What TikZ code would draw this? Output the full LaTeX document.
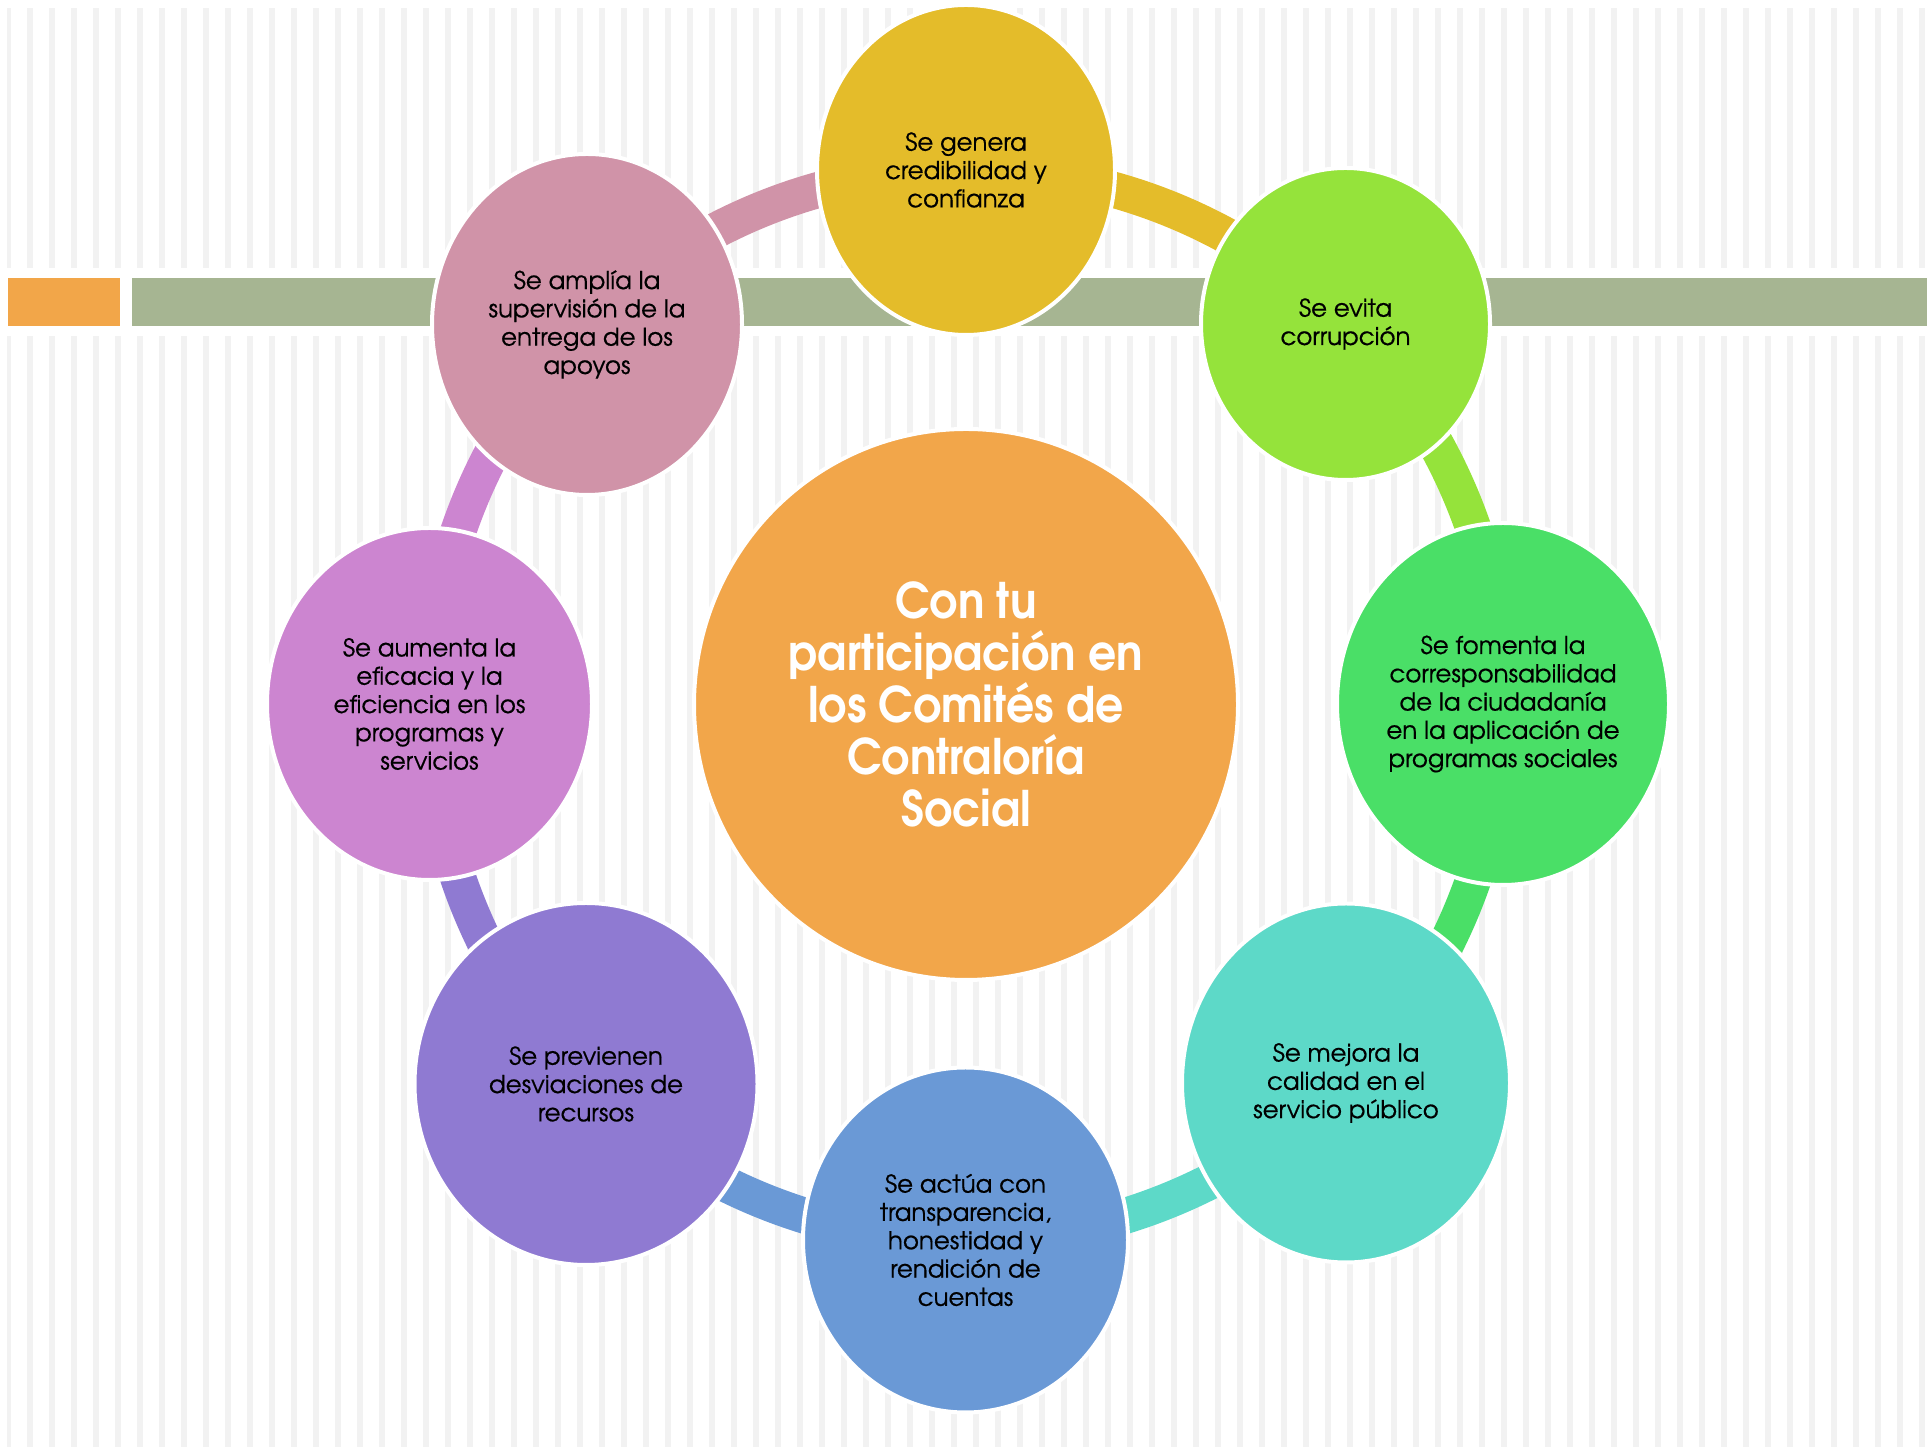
\documentclass[tikz,border=0pt]{standalone}
\usepackage{fontspec}
\setmainfont{texgyreadventor}[Extension=.otf, UprightFont=*-regular, BoldFont=*-bold, ItalicFont=*-italic, BoldItalicFont=*-bolditalic, FakeBold=0.5]
\newfontfamily\titlefont{texgyreadventor-bold}[Extension=.otf, FakeStretch=0.9]
\usetikzlibrary{shapes.geometric}
\definecolor{stripegray}{HTML}{F2F2F2}
\definecolor{barorange}{HTML}{F2A649}
\definecolor{bargreen}{HTML}{A6B592}
\definecolor{cyellow}{HTML}{E4BC2A}
\definecolor{clime}{HTML}{95E33B}
\definecolor{cgreen}{HTML}{4ADF67}
\definecolor{cteal}{HTML}{5DD9C8}
\definecolor{cblue}{HTML}{6A99D6}
\definecolor{cpurple}{HTML}{8F7AD2}
\definecolor{cviolet}{HTML}{CC85D0}
\definecolor{cpink}{HTML}{D093A8}
\definecolor{corange}{HTML}{F2A64A}
\tikzset{
  bubble/.style={ellipse, draw=white, line width=4pt, inner sep=0pt, align=center,
    text=black, font=\fontsize{24.5}{28.3}\selectfont},
  hub/.style={ellipse, draw=white, line width=4pt, inner sep=0pt, align=center,
    fill=corange, text=white, font=\titlefont\fontsize{49}{52}\selectfont},
  ring/.style={line width=36pt, line cap=butt, bend left=22.5, looseness=0.885}
}
\begin{document}
\begin{tikzpicture}[x=1pt,y=1pt]
\useasboundingbox (0,0) rectangle (1927,1447);
\fill[white] (0,0) rectangle (1927,1447);
% background stripes
\begin{scope}
\clip (7,0) rectangle (1927,1447);
\foreach \k in {0,...,87} {
  \fill[stripegray] ({5+22*\k},0) rectangle ++(6,1111);
  \fill[stripegray] ({5+22*\k},1179) rectangle ++(6,260);
}
\end{scope}
% bars
\fill[barorange] (8,1121) rectangle (120,1169);
\fill[bargreen] (132,1121) rectangle (1927,1169);
% positions
\coordinate (cC) at (966,742.5);
\coordinate (cY) at (966,1277);
\coordinate (cL) at (1345.5,1123);
\coordinate (cG) at (1503,743);
\coordinate (cT) at (1346,364);
\coordinate (cB) at (965.5,207);
\coordinate (cP) at (586,363);
\coordinate (cV) at (429.5,743);
\coordinate (cK) at (587,1122.5);
% ring
\draw[ring, cyellow] (cY) to (cL);
\draw[ring, clime] (cL) to (cG);
\draw[ring, cgreen] (cG) to (cT);
\draw[ring, cteal] (cT) to (cB);
\draw[ring, cblue] (cB) to (cP);
\draw[ring, cpurple] (cP) to (cV);
\draw[ring, cviolet] (cV) to (cK);
\draw[ring, cpink] (cK) to (cY);
% nodes
\node[hub, minimum width=544pt, minimum height=551pt] (C) at (cC)
  {Con tu\\participación en\\los Comités de\\Contraloría\\Social};
\node[bubble, fill=cyellow, minimum width=298pt, minimum height=330pt] (Y) at (cY)
  {Se genera\\credibilidad y\\confianza};
\node[bubble, fill=clime, minimum width=289pt, minimum height=312pt] (L) at (cL)
  {Se evita\\corrupción};
\node[bubble, fill=cgreen, minimum width=332pt, minimum height=362pt] (G) at (cG)
  {Se fomenta la\\corresponsabilidad\\de la ciudadanía\\en la aplicación de\\programas sociales};
\node[bubble, fill=cteal, minimum width=328pt, minimum height=359pt] (T) at (cT)
  {Se mejora la\\calidad en el\\servicio público};
\node[bubble, fill=cblue, minimum width=325pt, minimum height=345pt] (B) at (cB)
  {Se actúa con\\transparencia,\\honestidad y\\rendición de\\cuentas};
\node[bubble, fill=cpurple, minimum width=343pt, minimum height=362pt] (P) at (cP)
  {Se previenen\\desviaciones de\\recursos};
\node[bubble, fill=cviolet, minimum width=325pt, minimum height=352pt] (V) at (cV)
  {Se aumenta la\\eficacia y la\\eficiencia en los\\programas y\\servicios};
\node[bubble, fill=cpink, minimum width=310pt, minimum height=341pt] (K) at (cK)
  {Se amplía la\\supervisión de la\\entrega de los\\apoyos};
\end{tikzpicture}
\end{document}
